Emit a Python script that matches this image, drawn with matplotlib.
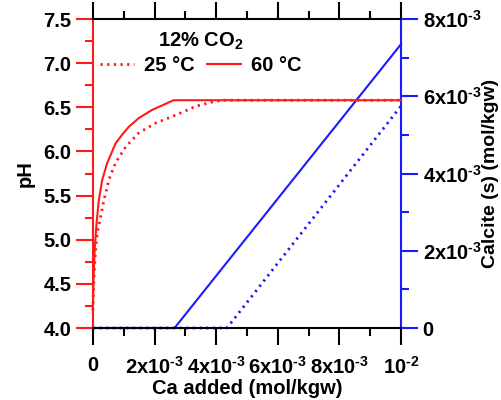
import matplotlib
matplotlib.use("Agg")
import matplotlib.pyplot as plt
from matplotlib.ticker import MultipleLocator, FixedLocator, FixedFormatter

plt.rcParams["font.family"] = ["Liberation Sans", "DejaVu Sans"]
plt.rcParams["font.weight"] = "bold"
plt.rcParams["mathtext.fontset"] = "custom"
plt.rcParams["mathtext.rm"] = "Liberation Sans:bold"
plt.rcParams["mathtext.it"] = "Liberation Sans:bold"
plt.rcParams["mathtext.bf"] = "Liberation Sans:bold"
plt.rcParams["mathtext.default"] = "rm"

# pH vs Ca added, 60 C (solid) and 25 C (dotted)
ca_60 = [0, 0.02e-3, 0.06e-3, 0.12e-3, 0.194e-3, 0.305e-3, 0.466e-3, 0.735e-3,
         0.95e-3, 1.17e-3, 1.5e-3, 1.92e-3, 2.62e-3, 10e-3]
ph_60 = [4.2, 4.55, 4.9, 5.19, 5.45, 5.68, 5.87, 6.09, 6.19, 6.28, 6.38, 6.47, 6.58, 6.58]
ca_25 = [0, 0.03e-3, 0.08e-3, 0.14e-3, 0.25e-3, 0.36e-3, 0.52e-3, 0.735e-3, 1.06e-3,
         1.49e-3, 2.03e-3, 2.68e-3, 3.33e-3, 3.87e-3, 4.23e-3, 10e-3]
ph_25 = [4.2, 4.54, 4.85, 5.07, 5.26, 5.45, 5.68, 5.87, 6.05, 6.21, 6.32, 6.41,
         6.51, 6.56, 6.58, 6.58]

# calcite precipitated
ca_cal60 = [0, 2.65e-3, 10e-3]
cal_60 = [0, 0, 7.35e-3]
ca_cal25 = [0, 4.35e-3, 10e-3]
cal_25 = [0, 0, 5.75e-3]

x_ticks = [0, 2e-3, 4e-3, 6e-3, 8e-3, 10e-3]
x_labels = ["0", r"$2\mathrm{x}10^{\text{-}3}$", r"$4\mathrm{x}10^{\text{-}3}$",
            r"$6\mathrm{x}10^{\text{-}3}$", r"$8\mathrm{x}10^{\text{-}3}$", r"$10^{\text{-}2}$"]
r_ticks = [0, 2e-3, 4e-3, 6e-3, 8e-3]
r_labels = ["0", r"$2\mathrm{x}10^{\text{-}3}$", r"$4\mathrm{x}10^{\text{-}3}$",
            r"$6\mathrm{x}10^{\text{-}3}$", r"$8\mathrm{x}10^{\text{-}3}$"]

red = "#ff1a1a"
blue = "#1a1aff"
fs = 14.5
dot = (0, (0.8, 1.6))

fig = plt.figure(figsize=(5.02, 4.0), dpi=100)
ax = fig.add_axes([0.185, 0.18, 0.614, 0.7725])
ax2 = ax.twinx()

ax2.plot(ca_cal25, cal_25, color=blue, lw=2, ls=dot, clip_on=False)
ax2.plot(ca_cal60, cal_60, color=blue, lw=1.5, clip_on=False)
ax2.set_ylim(0, 8e-3)

ax.set_zorder(ax2.get_zorder() + 1)
ax.patch.set_visible(False)
l25, = ax.plot(ca_25, ph_25, color=red, lw=2, ls=dot, clip_on=False)
l60, = ax.plot(ca_60, ph_60, color=red, lw=1.5, clip_on=False)
ax.set_xlim(0, 10e-3)
ax.set_ylim(4.0, 7.5)

ax.xaxis.set_major_locator(FixedLocator(x_ticks))
ax.xaxis.set_major_formatter(FixedFormatter(x_labels))
ax.xaxis.set_minor_locator(MultipleLocator(1e-3))
ax.yaxis.set_major_locator(MultipleLocator(0.5))
ax.yaxis.set_minor_locator(MultipleLocator(0.25))
ax.yaxis.set_major_formatter(plt.FuncFormatter(lambda v, p: f"{v:.1f}"))
ax2.yaxis.set_major_locator(FixedLocator(r_ticks))
ax2.yaxis.set_major_formatter(FixedFormatter(r_labels))
ax2.yaxis.set_minor_locator(MultipleLocator(1e-3))

ax.tick_params(axis="x", which="both", direction="out", top=True, color="black",
               width=1.5, labelsize=fs, pad=8)
ax.tick_params(axis="x", which="major", length=12)
ax.tick_params(axis="x", which="minor", length=6)
ax.tick_params(axis="y", which="both", direction="out", color=red, width=1.5, labelsize=fs)
ax.tick_params(axis="y", which="major", length=12)
ax.tick_params(axis="y", which="minor", length=6)
ax2.tick_params(axis="y", which="both", direction="out", color=blue, width=1.5, labelsize=fs)
ax2.tick_params(axis="y", which="major", length=12)
ax2.tick_params(axis="y", which="minor", length=6)

for a in (ax, ax2):
    for s in a.spines.values():
        s.set_linewidth(1.5)
ax.spines["left"].set_color(red)
ax.spines["right"].set_visible(False)
ax2.spines["left"].set_visible(False)
ax2.spines["right"].set_color(blue)
ax2.spines["top"].set_visible(False)
ax2.spines["bottom"].set_visible(False)

ax.set_xlabel("Ca added (mol/kgw)", fontsize=fs, fontweight="bold", labelpad=1)
ax.set_ylabel("pH", fontsize=fs, fontweight="bold", labelpad=6)
ax2.set_ylabel("Calcite (s) (mol/kgw)", fontsize=fs - 0.5, fontweight="bold", labelpad=0)

leg = ax.legend([l25, l60], ["25 °C", "60 °C"], ncol=2, frameon=False,
                title="12% CO$_2$", title_fontsize=fs, fontsize=fs,
                loc="upper center", bbox_to_anchor=(0.35, 1.0),
                handlelength=1.7, handletextpad=0.5, columnspacing=0.6,
                borderaxespad=0.2, labelspacing=0.2)
leg.get_title().set_fontweight("bold")

fig.savefig("out.png", dpi=100)
